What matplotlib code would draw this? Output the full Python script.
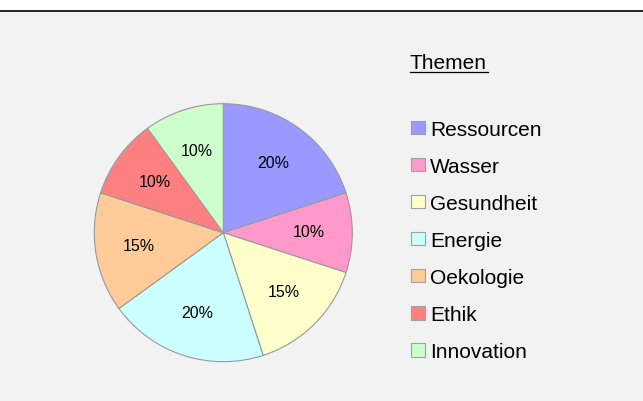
import matplotlib.pyplot as plt
from matplotlib.patches import Rectangle

plt.rcParams['font.family'] = ['Liberation Sans', 'DejaVu Sans']

# data
themen = ['Ressourcen', 'Wasser', 'Gesundheit', 'Energie', 'Oekologie', 'Ethik', 'Innovation']
anteile = [20, 10, 15, 20, 15, 10, 10]
farben = ['#9999ff', '#ff99cc', '#ffffcc', '#ccffff', '#ffcc99', '#ff8080', '#ccffcc']

W, H = 643, 401
fig = plt.figure(figsize=(W / 100, H / 100), dpi=100)

# background layer in pixel coordinates
bg = fig.add_axes([0, 0, 1, 1])
bg.set_xlim(0, W)
bg.set_ylim(H, 0)
bg.axis('off')
bg.add_patch(Rectangle((0, 11), W, H - 11, facecolor='#f2f2f2', edgecolor='none'))
bg.plot([0, W], [11, 11], color='black', lw=1.2)

# pie
cx, cy, r = 223.3, 232.7, 129
ax = fig.add_axes([(cx - r) / W, (H - cy - r) / H, 2 * r / W, 2 * r / H])
ax.pie(anteile, colors=farben, startangle=90, counterclock=False,
       wedgeprops=dict(edgecolor='#999999', linewidth=0.8),
       autopct=lambda p: '%.0f%%' % p, pctdistance=0.66,
       textprops=dict(fontsize=11.5, color='black'))
ax.set_xlim(-1, 1)
ax.set_ylim(-1, 1)

# legend
bg.text(410, 69.3, 'Themen', fontsize=15, va='baseline', ha='left')
bg.plot([410, 488], [71.6, 71.6], color='black', lw=0.9)
for i, (name, col) in enumerate(zip(themen, farben)):
    base = 135.7 + 37.1 * i
    bg.add_patch(Rectangle((411, base - 15.2), 13.5, 13.5, facecolor=col,
                           edgecolor='#a0a0a0', lw=0.8))
    bg.text(430, base, name, fontsize=15, va='baseline', ha='left')

fig.savefig('out.png', dpi=100)
